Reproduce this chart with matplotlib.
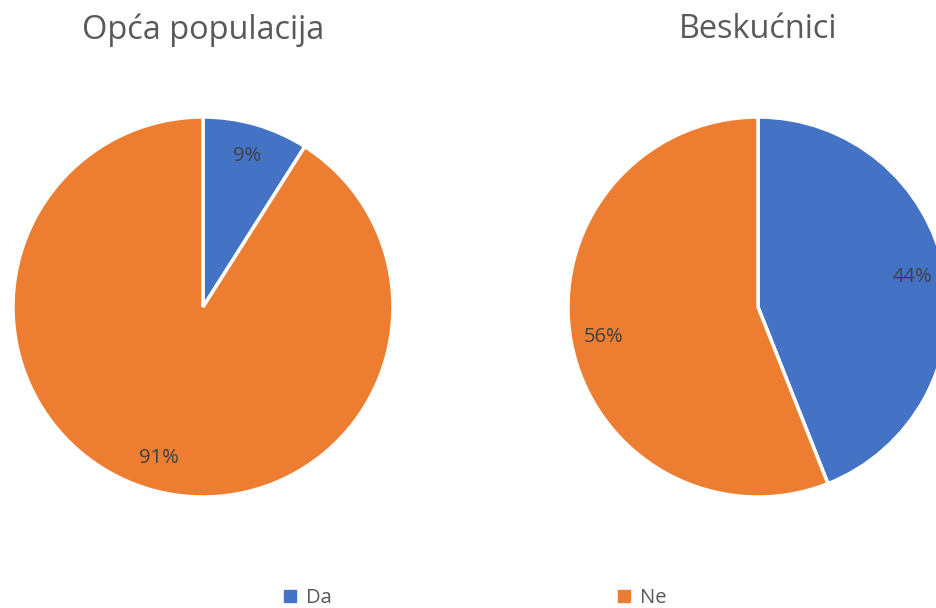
import matplotlib
matplotlib.use("Agg")
import matplotlib.pyplot as plt
from matplotlib.lines import Line2D

categories = ["Da", "Ne"]
titles = ["Opća populacija", "Beskućnici"]
opca_values = [9, 91]
beskucnici_values = [44, 56]
colors = ["#4472C4", "#ED7D31"]

plt.rcParams['font.family'] = ['Open Sans', 'DejaVu Sans']

W, H = 937, 608
fig = plt.figure(figsize=(W / 100, H / 100), dpi=100)

R = 190
centers = [(203, 307), (758, 307)]
series = [opca_values, beskucnici_values]

for (cx, cy), vals, title in zip(centers, series, titles):
    ax = fig.add_axes([(cx - R) / W, (H - cy - R) / H, 2 * R / W, 2 * R / H])
    wedges, texts, autotexts = ax.pie(
        vals, colors=colors, startangle=90, counterclock=False,
        autopct=lambda p: f"{p:.0f}%", pctdistance=0.83,
        wedgeprops=dict(edgecolor="white", linewidth=2.5),
        textprops=dict(color="#404040", fontsize=14.5),
        radius=1.0,
    )
    ax.set_xlim(-1.0, 1.0)
    ax.set_ylim(-1.0, 1.0)
    ax.set_aspect("equal")
    ax.axis("off")
    fig.text(cx / W, 1 - 30 / H, title, ha="center", va="center",
             fontsize=23.4, color="#595959")

handles = [Line2D([0], [0], marker="s", linestyle="none", markersize=8,
                  markerfacecolor=c, markeredgecolor=c) for c in colors]
fig.legend(handles, categories, loc="center", bbox_to_anchor=(474 / W, 1 - 598 / H),
           ncol=2, frameon=False, fontsize=14.5, labelcolor="#595959",
           handlelength=0.8, handletextpad=0.4, columnspacing=14.1)

fig.savefig("out.png", dpi=100)
